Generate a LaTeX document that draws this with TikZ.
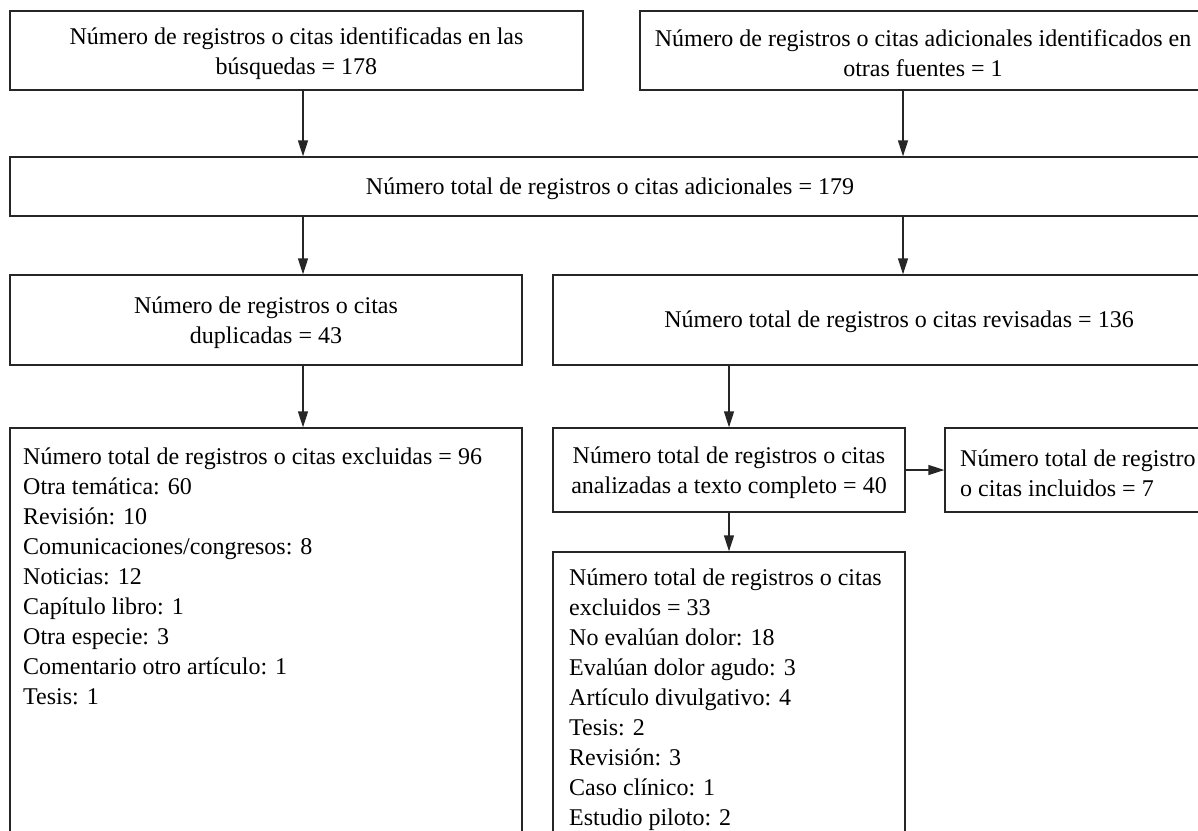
\documentclass[tikz,border=0pt]{standalone}
\usepackage{fontspec}
\setmainfont{Liberation Serif}
\usetikzlibrary{arrows.meta}
\begin{document}
\begin{tikzpicture}[x=1pt,y=-1pt,
  bx/.style={draw=black!85, line width=1.3pt, rectangle, inner sep=0pt},
  txt/.style={inner sep=0pt, font=\fontsize{24}{30}\selectfont},
  ctxt/.style={txt, align=center, yshift=-3pt},
  ltxt/.style={txt, align=left},
  arr/.style={draw=black!85, line width=1.3pt, -{Triangle[length=16pt,width=10pt]}}]
\useasboundingbox (0,0) rectangle (1198,830);
\clip (0,0) rectangle (1198,830);
% column coordinates
\coordinate (cl) at (303,0);
\coordinate (cr) at (903,0);
\coordinate (cm) at (729,0);
% row 1
\node[bx, minimum width=573pt, minimum height=79pt] (b1) at (296.5,50.5) {};
\node[ctxt] (t1) at (b1) {Número de registros o citas identificadas en las\\búsquedas = 178};
\node[bx, minimum width=566pt, minimum height=79pt] (b2) at (923,50.5) {};
\node[ctxt] (t2) at (b2) {Número de registros o citas adicionales identificados en\\otras fuentes = 1};
% row 2
\node[bx, minimum width=1200pt, minimum height=59pt] (b3) at (610,186.5) {};
\node[ctxt, yshift=1pt] (t3) at (b3) {Número total de registros o citas adicionales = 179};
% row 3
\node[bx, minimum width=512pt, minimum height=90pt] (b4) at (266,320) {};
\node[ctxt] (t4) at (b4) {Número de registros o citas\\duplicadas = 43};
\node[bx, minimum width=692pt, minimum height=90pt] (b5) at (899,320) {};
\node[ctxt, yshift=1pt] (t5) at (b5) {Número total de registros o citas revisadas = 136};
% row 4
\node[bx, minimum width=512pt, minimum height=472pt] (b6) at (266,664) {};
\node[ltxt, anchor=north west] (t6) at (23,448)
  {Número total de registros o citas excluidas = 96\\
   Otra temática: 60\\
   Revisión: 10\\
   Comunicaciones/congresos: 8\\
   Noticias: 12\\
   Capítulo libro: 1\\
   Otra especie: 3\\
   Comentario otro artículo: 1\\
   Tesis: 1};
\node[bx, minimum width=352pt, minimum height=84pt] (b7) at (729,470) {};
\node[ctxt] (t7) at (b7) {Número total de registros o citas\\analizadas a texto completo = 40};
\node[bx, minimum width=455pt, minimum height=84pt] (b8) at (1172.5,470) {};
\node[ltxt, anchor=west, yshift=-3pt] (t8) at (960,470)
  {Número total de registro\\o citas incluidos = 7};
% row 5
\node[bx, minimum width=352pt, minimum height=348pt] (b9) at (729,726) {};
\node[ltxt, anchor=north west] (t9) at (569,569)
  {Número total de registros o citas\\
   excluidos = 33\\
   No evalúan dolor: 18\\
   Evalúan dolor agudo: 3\\
   Artículo divulgativo: 4\\
   Tesis: 2\\
   Revisión: 3\\
   Caso clínico: 1\\
   Estudio piloto: 2};
% connectors
\draw[arr] (b1.south -| cl) -- (b3.north -| cl);
\draw[arr] (b2.south -| cr) -- (b3.north -| cr);
\draw[arr] (b3.south -| cl) -- (b4.north -| cl);
\draw[arr] (b3.south -| cr) -- (b5.north -| cr);
\draw[arr] (b4.south -| cl) -- (b6.north -| cl);
\draw[arr] (b5.south -| cm) -- (b7.north -| cm);
\draw[arr] (b7.east) -- (b8.west);
\draw[arr] (b7.south) -- (b9.north);
\end{tikzpicture}
\end{document}
